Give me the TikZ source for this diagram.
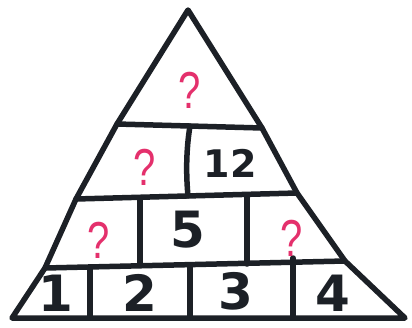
\documentclass[tikz,border=0pt]{standalone}
\usepackage{fontspec}
\setmainfont{DejaVu Sans}
\newfontfamily\qfont{Liberation Sans}
\definecolor{ink}{RGB}{28,32,38}
\definecolor{qred}{RGB}{228,48,108}
\begin{document}
\begin{tikzpicture}[x=1pt,y=-1pt,
  edge/.style={draw=ink,line width=5.5pt,line join=round,line cap=round},
  digit/.style={text=ink,inner sep=0pt,font=\fontsize{50}{50}\selectfont\bfseries},
  small/.style={text=ink,inner sep=0pt,font=\fontsize{38}{38}\selectfont\bfseries},
  qmark/.style={text=qred,inner sep=0pt,font=\fontsize{40}{40}\selectfont\qfont,yscale=1.3}]
\fill[white] (0,0) rectangle (412,327);
\useasboundingbox (0,0) rectangle (412,327);
% corners
\coordinate (A) at (188,10);
\coordinate (L1) at (117,124);
\coordinate (R1) at (262,128);
\coordinate (L2) at (76,199);
\coordinate (R2) at (297,193);
\coordinate (L3) at (45,268);
\coordinate (R3) at (345,261);
\coordinate (BL) at (12,318);
\coordinate (BR) at (405,318);
% outline
\draw[edge] (A) -- (L1) -- (L2) -- (L3) -- (BL) -- (BR) -- (R3) -- (R2) -- (R1) -- cycle;
% row lines
\draw[edge] (L1) -- (R1);
\draw[edge] (L2) -- (R2);
\draw[edge] (L3) -- (R3);
% vertical dividers
\coordinate (v1a) at (190,126); \coordinate (v1b) at (188,196);
\coordinate (v2a) at (140,198); \coordinate (v2b) at (140,263);
\coordinate (v3a) at (247,195); \coordinate (v3b) at (247,264);
\coordinate (v4a) at (90,267);  \coordinate (v4b) at (90,318);
\coordinate (v5a) at (190,265); \coordinate (v5b) at (190,318);
\coordinate (v6a) at (293,258); \coordinate (v6b) at (293,318);
\draw[edge] (v1a) .. controls (186,150) and (186,175) .. (v1b);
\draw[edge] (v2a) -- (v2b);
\draw[edge] (v3a) -- (v3b);
\draw[edge] (v4a) -- (v4b);
\draw[edge] (v5a) -- (v5b);
\draw[edge] (v6a) -- (v6b);
% texts
\node[qmark] (q1) at (190,90) {?};
\node[qmark] (q2) at (145,167) {?};
\node[small] (n12) at (230,163) {12};
\node[qmark] (q3) at (99,240) {?};
\node[digit] (n5) at (188,230) {5};
\node[qmark] (q4) at (292,238) {?};
\node[digit] (n1) at (56,293) {1};
\node[digit] (n2) at (140,293) {2};
\node[digit] (n3) at (236,291) {3};
\node[digit] (n4) at (333,293) {4};
\end{tikzpicture}
\end{document}
